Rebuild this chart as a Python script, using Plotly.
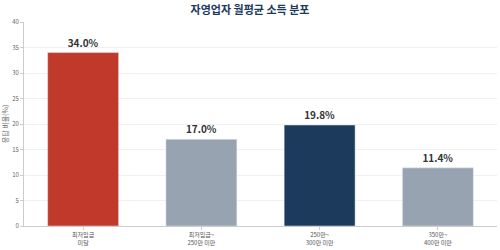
import plotly.graph_objects as go

categories = ["최저임금<br>미달", "최저임금~<br>250만 미만", "250만~<br>300만 미만", "350만~<br>400만 미만"]
values = [34.0, 17.0, 19.8, 11.4]
colors = ["#c0392b", "#97a3b0", "#1b3a5c", "#97a3b0"]
y_ticks = [0, 5, 10, 15, 20, 25, 30, 35, 40]

fig = go.Figure(go.Bar(
    x=categories, y=values, marker_color=colors, width=0.6,
    text=[f"<b>{v:.1f}%</b>" for v in values], textposition="outside",
    textfont=dict(size=10, color="#333333", family="Noto Sans CJK KR"),
    cliponaxis=False,
))
fig.update_layout(
    width=500, height=250,
    margin=dict(l=23, r=3, t=22, b=22),
    paper_bgcolor="white", plot_bgcolor="white",
    title=dict(text="<b>자영업자 월평균 소득 분포</b>", x=0.5, xanchor="center", y=0.96, yanchor="middle",
               font=dict(size=11, color="#1b3a5c", family="Noto Sans CJK KR")),
    font=dict(family="Noto Sans CJK KR", color="#555555"),
    showlegend=False,
    bargap=0.4,
)
fig.update_yaxes(range=[0, 40], tickvals=y_ticks, tickfont=dict(size=6, color="#666666"),
                 showgrid=True, gridcolor="#f0f0f0", showline=True, linecolor="#cccccc",
                 ticks="outside", ticklen=3, tickcolor="#cccccc", zeroline=False,
                 title=dict(text="응답 비율(%)", font=dict(size=7, color="#666666"), standoff=4))
fig.update_xaxes(tickfont=dict(size=6, color="#555555"), showline=True, linecolor="#cccccc",
                 ticks="outside", ticklen=3, tickcolor="#cccccc")
fig.write_html("out.html")
